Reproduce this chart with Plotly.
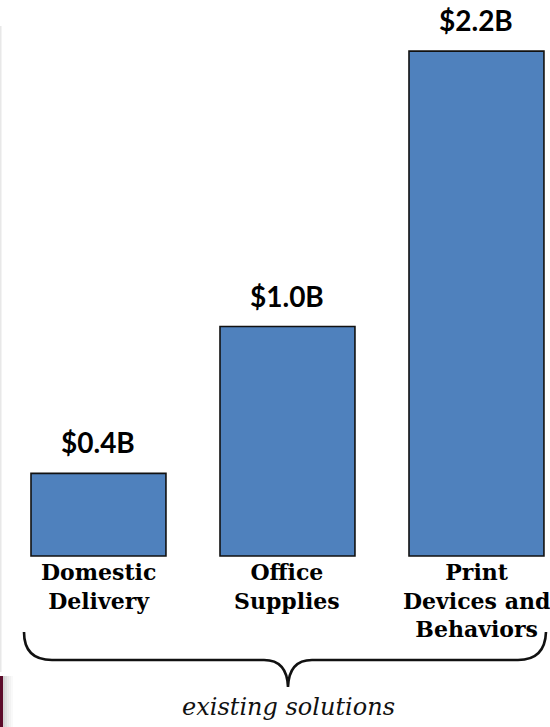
import plotly.graph_objects as go

categories = ["Domestic<br>Delivery", "Office<br>Supplies", "Print<br>Devices and<br>Behaviors"]
values = [0.36, 1.0, 2.2]
value_labels = ["$0.4B", "$1.0B", "$2.2B"]
group_label = "existing solutions"

W, H = 550, 727
BAR_COLOR = "#4F81BD"

x_idx = list(range(len(categories)))

fig = go.Figure()
fig.add_trace(go.Bar(
    x=x_idx, y=values,
    marker=dict(color=BAR_COLOR, line=dict(color="#111111", width=1.6)),
    width=0.714,
    hoverinfo="skip",
))

# value labels above bars
for xi, v, t in zip(x_idx, values, value_labels):
    fig.add_annotation(x=xi, y=v, text=f"<b>{t}</b>", showarrow=False,
                       yanchor="bottom", yshift=12,
                       font=dict(family="Lato", size=28, color="#000000"))

# category labels below bars
for xi, c in zip(x_idx, categories):
    fig.add_annotation(x=xi, y=0, text=f"<b>{c}</b>", showarrow=False,
                       yanchor="top", yshift=-1,
                       font=dict(family="DejaVu Serif", size=22, color="#000000"))


def P(px, py):
    return f"{px / W:.5f},{(H - py) / H:.5f}"

brace = (f"M {P(24,632)} Q {P(24,660)} {P(52,660)} L {P(264,660)} "
         f"Q {P(287,660)} {P(288,687)} Q {P(289,660)} {P(312,660)} "
         f"L {P(518,660)} Q {P(545,660)} {P(546,632)}")
fig.add_shape(type="path", path=brace, xref="paper", yref="paper",
              line=dict(color="#111111", width=2.6))

fig.add_annotation(x=288 / W, y=(H - 723) / H, xref="paper", yref="paper",
                   text=f"<i>{group_label}</i>", showarrow=False,
                   xanchor="center", yanchor="bottom",
                   font=dict(family="DejaVu Serif", size=24, color="#111111"))

# left-edge decorations
fig.add_shape(type="rect", xref="paper", yref="paper",
              x0=0, x1=1.5 / W, y0=(H - 672) / H, y1=(H - 26) / H,
              line=dict(width=0), fillcolor="#e8e8e8")
for i, op in enumerate([0.35, 0.25, 0.17, 0.1, 0.05]):
    fig.add_shape(type="rect", xref="paper", yref="paper",
                  x0=(3 + 2 * i) / W, x1=(5 + 2 * i) / W, y0=0, y1=(H - 676) / H,
                  line=dict(width=0), fillcolor="gray", opacity=op)
fig.add_shape(type="rect", xref="paper", yref="paper",
              x0=0, x1=3 / W, y0=0, y1=(H - 676) / H,
              line=dict(width=0), fillcolor="#5c0b2a")

fig.update_layout(
    width=W, height=H, autosize=False,
    margin=dict(l=0, r=0, t=0, b=0),
    paper_bgcolor="white", plot_bgcolor="white",
    showlegend=False,
    xaxis=dict(range=[-0.521, 2.389], visible=False, fixedrange=True),
    yaxis=dict(range=[-0.745, 2.4227], visible=False, fixedrange=True),
)

fig.write_html("out.html", config={"displayModeBar": False},
               post_script="document.body.style.margin='0';")
